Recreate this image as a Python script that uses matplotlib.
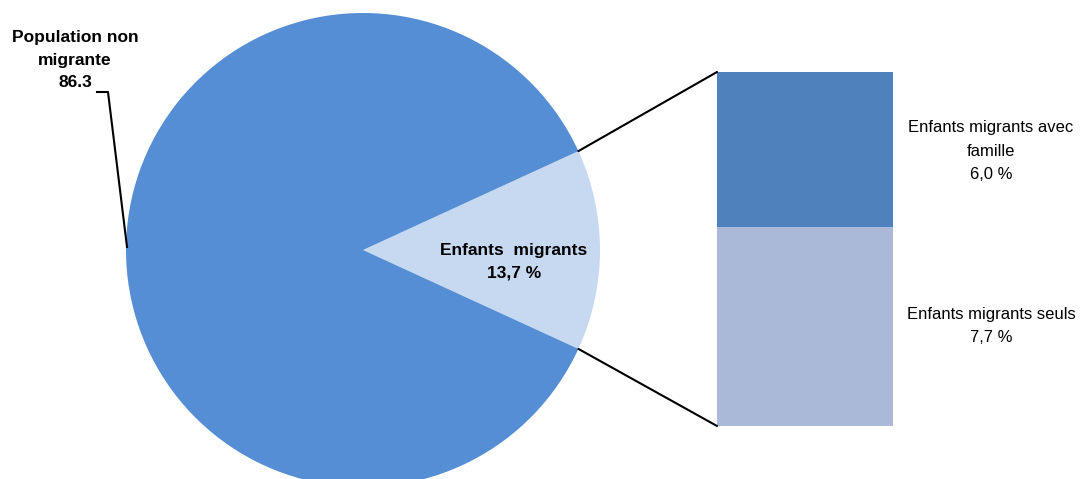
import matplotlib
matplotlib.use("Agg")
import matplotlib.pyplot as plt
from matplotlib.patches import ConnectionPatch
from matplotlib import font_manager
import numpy as np

# Data
pie_labels = ["Enfants migrants", "Population non migrante"]
pie_values = [13.7, 86.3]
bar_labels = ["Enfants migrants seuls", "Enfants migrants avec famille"]
bar_values = [7.7, 6.0]

pie_colors = ["#C6D9F1", "#558ED5"]
bar_colors = ["#AAB9D8", "#4F81BD"]

names = {f.name for f in font_manager.fontManager.ttflist}
fam = ["Liberation Sans Narrow", "Liberation Sans", "DejaVu Sans"]
fam = [f for f in fam if f in names] or ["DejaVu Sans"]
plt.rcParams["font.family"] = fam

W, H = 1088, 479
fig = plt.figure(figsize=(W / 100, H / 100), dpi=100)
ax = fig.add_axes([0, 0, 1, 1])

cx, cy, r = 363, H - 250, 237
half = pie_values[0] / sum(pie_values) * 360 / 2
ax.pie(pie_values, colors=pie_colors, startangle=-half, counterclock=True,
       center=(cx, cy), radius=r, frame=True,
       wedgeprops=dict(linewidth=0))
ax.set_xlim(0, W)
ax.set_ylim(0, H)
ax.set_aspect("equal")
ax.axis("off")

# Bar (stacked) in its own axes
bl, bb, bw, bh = 717, H - 426, 176, 354
bax = fig.add_axes([bl / W, bb / H, bw / W, bh / H])
bottom = 0
for v, c in zip(bar_values, bar_colors):
    bax.bar(0, v, width=1, bottom=bottom, color=c, linewidth=0)
    bottom += v
bax.set_xlim(-0.5, 0.5)
bax.set_ylim(0, sum(bar_values))
bax.axis("off")

# Connection lines
t = np.deg2rad(half)
p_top = (cx + r * np.cos(t), cy + r * np.sin(t))
p_bot = (cx + r * np.cos(-t), cy + r * np.sin(-t))
for p, yb in [(p_top, sum(bar_values)), (p_bot, 0)]:
    con = ConnectionPatch(xyA=p, coordsA=ax.transData, xyB=(-0.5, yb),
                          coordsB=bax.transData, color="black", linewidth=1.5)
    fig.add_artist(con)

# Labels
ax.text(75, H - 60, "Population non\nmigrante\n86.3", ha="center", va="center",
        fontsize=12.5, fontweight="bold", linespacing=1.65)
ax.plot([97, 108, 127], [H - 92, H - 92, H - 247], color="black", linewidth=1.5)
ax.text(514, H - 261.5, "Enfants  migrants\n13,7 %", ha="center", va="center",
        fontsize=12.5, fontweight="bold", linespacing=1.65)
ax.text(991, H - 151, "Enfants migrants avec\nfamille\n6,0 %", ha="center",
        va="center", fontsize=12, linespacing=1.7)
ax.text(991, H - 326, "Enfants migrants seuls\n7,7 %", ha="center",
        va="center", fontsize=12, linespacing=1.7)

fig.savefig("out.png", dpi=100)
